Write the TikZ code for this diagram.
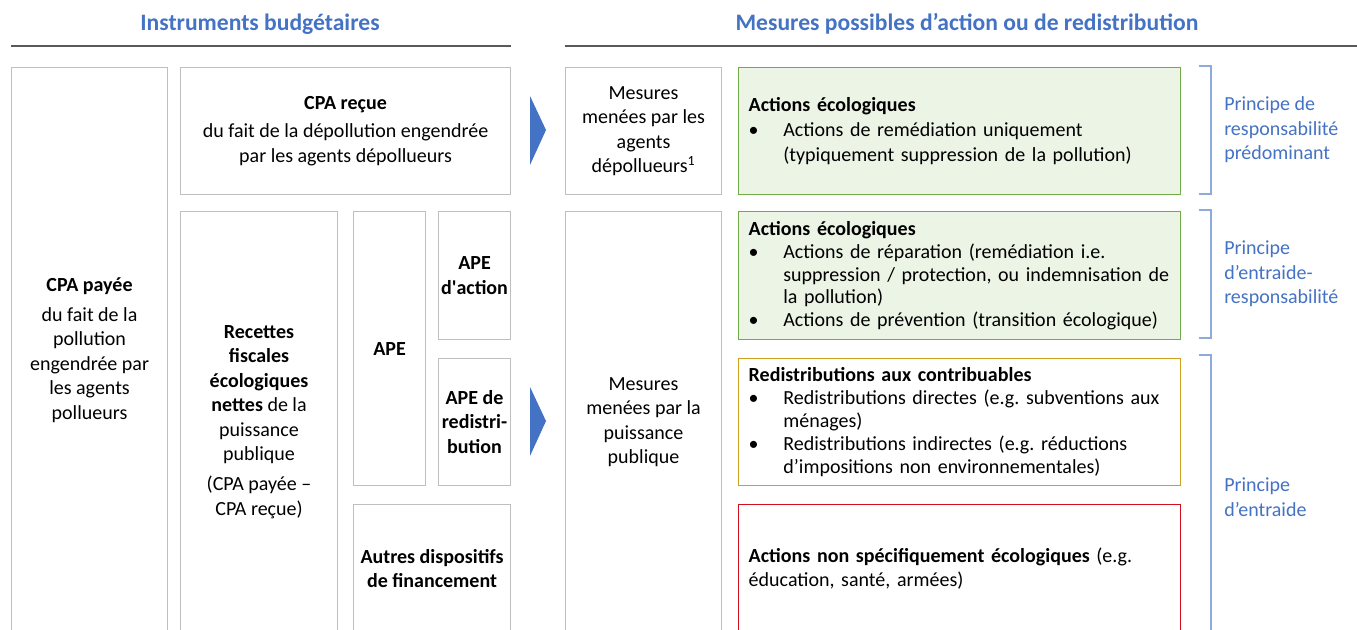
\documentclass[tikz,border=0pt]{standalone}
\usepackage{fontspec}
\setmainfont{Carlito}
\usetikzlibrary{positioning}
\frenchspacing
\definecolor{headblue}{HTML}{4472C4}
\definecolor{braceblue}{HTML}{8EA9DB}
\definecolor{boxgray}{HTML}{BFBFBF}
\definecolor{rulegray}{HTML}{595959}
\definecolor{leafgreen}{HTML}{70AD47}
\definecolor{leaffill}{HTML}{ECF4E6}
\definecolor{ochre}{HTML}{CC9F1F}
\definecolor{crimson}{HTML}{D0101A}
\newcommand{\puce}{\makebox[26pt][l]{\textbullet}}
\newcommand{\suite}{\hspace*{26pt}}
\tikzset{
  sz/.style 2 args={minimum width=#1*0.75pt, minimum height=#2*0.75pt},
  box/.style={rectangle, draw=boxgray, fill=white, line width=0.8pt, anchor=north west,
              align=center, inner sep=0pt, font=\fontsize{15}{18.4}\selectfont},
  mesbox/.style={box, text width=#1*0.75pt-15pt, inner xsep=7.5pt, align=left,
                 line width=1.1pt, font=\fontsize{15}{17.2}\selectfont},
  ecobox/.style={mesbox=#1, draw=leafgreen, fill=leaffill},
  redisbox/.style={mesbox=#1, draw=ochre},
  autrebox/.style={mesbox=#1, draw=crimson},
  heading/.style={font=\fontsize{17.7}{20}\selectfont\bfseries, text=headblue},
  rule/.style={draw=rulegray, line width=1.2pt},
  chevron/.style={fill=headblue},
  brace/.style={draw=braceblue, line width=1.1pt},
  principe/.style={anchor=west, align=left, text=headblue, inner sep=0pt,
                   font=\fontsize{15}{18.4}\selectfont}
}
\begin{document}
\begin{tikzpicture}[x=0.75pt,y=-0.75pt]
\useasboundingbox (0,0) rectangle (1357,629);
\clip (0,0) rectangle (1357,629);

% --- instruments budgetaires
\node[box, sz={156}{565}] (cpap) at (11,67)
  {\textbf{CPA payée}\\[4pt]du fait de la\\pollution\\engendrée par\\les agents\\pollueurs};
\node[box, sz={330}{127}] (cpar) at (180,67)
  {\textbf{CPA reçue}\\[3pt]du fait de la dépollution engendrée\\par les agents dépollueurs};
\node[box, sz={157}{421}] (recettes) at (180,211)
  {\textbf{Recettes}\\\textbf{fiscales}\\\textbf{écologiques}\\\textbf{nettes} de la\\puissance\\publique\\[4pt](CPA payée –\\CPA reçue)};
\node[box, sz={72}{274}] (ape) at (353,211) {\textbf{APE}};
\node[box, sz={72}{128}] (apeact) at (438,211) {\textbf{APE}\\\textbf{d\textquotesingle action}};
\node[box, sz={72}{127}] (aperedis) at (438,358) {\textbf{APE de}\\\textbf{redistri-}\\\textbf{bution}};
\node[box, sz={157}{128}] (autres) at (353,504) {\textbf{Autres dispositifs}\\\textbf{de financement}};

% --- mesures
\node[box, sz={156}{127}] (mesdep) at (565,67)
  {Mesures\\menées par les\\agents\\dépollueurs\textsuperscript{1}};
\node[box, sz={156}{421}] (mespub) at (565,211)
  {Mesures\\menées par la\\puissance\\publique};

\node[ecobox=442, sz={442}{127}, font=\fontsize{15}{18.8}\selectfont] (eco1) at (738,67)
  {\textbf{Actions écologiques}\\
   \puce Actions de remédiation uniquement\\
   \suite (typiquement suppression de la pollution)};
\node[ecobox=442, sz={442}{128}] (eco2) at (738,211)
  {\textbf{Actions écologiques}\\
   \puce Actions de réparation (remédiation i.e.\\
   \suite suppression / protection, ou indemnisation de\\
   \suite la pollution)\\
   \puce Actions de prévention (transition écologique)};
\node[redisbox=442, sz={442}{127}] (redis) at (738,358)
  {\textbf{Redistributions aux contribuables}\\
   \puce Redistributions directes (e.g. subventions aux\\
   \suite ménages)\\
   \puce Redistributions indirectes (e.g. réductions\\
   \suite d’impositions non environnementales)};
\node[autrebox=442, sz={442}{128}, font=\fontsize{15}{18}\selectfont] (nonspec) at (738,504)
  {\textbf{Actions non spécifiquement écologiques} (e.g.\\éducation, santé, armées)};

% --- titres
\node[heading] (hgauche) at (260,24) {Instruments budgétaires};
\node[heading] (hdroite) at (967,24) {Mesures possibles d’action ou de redistribution};
\draw[rule] (cpap.north west |- 0,46) -- (cpar.north east |- 0,46);
\draw[rule] (mesdep.north west |- 0,46) -- (1357,46);

% --- fleches
\fill[chevron] (530,96) -- (546,130) -- (530,165) -- cycle;
\fill[chevron] (530,387) -- (546,421) -- (530,456) -- cycle;

% --- principes
\draw[brace] (1199,66) -- (1211,66) -- (1211,194) -- (1199,194);
\draw[brace] (1199,210) -- (1211,210) -- (1211,338) -- (1199,338);
\draw[brace] (1199,355) -- (1211,355) -- (1211,640);
\node[principe] (presp) at (1224,130) {Principe de\\responsabilité\\prédominant};
\node[principe] (pmixte) at (1224,274) {Principe\\d’entraide-\\responsabilité};
\node[principe] (pentr) at (1224,497) {Principe\\d’entraide};
\end{tikzpicture}
\end{document}
